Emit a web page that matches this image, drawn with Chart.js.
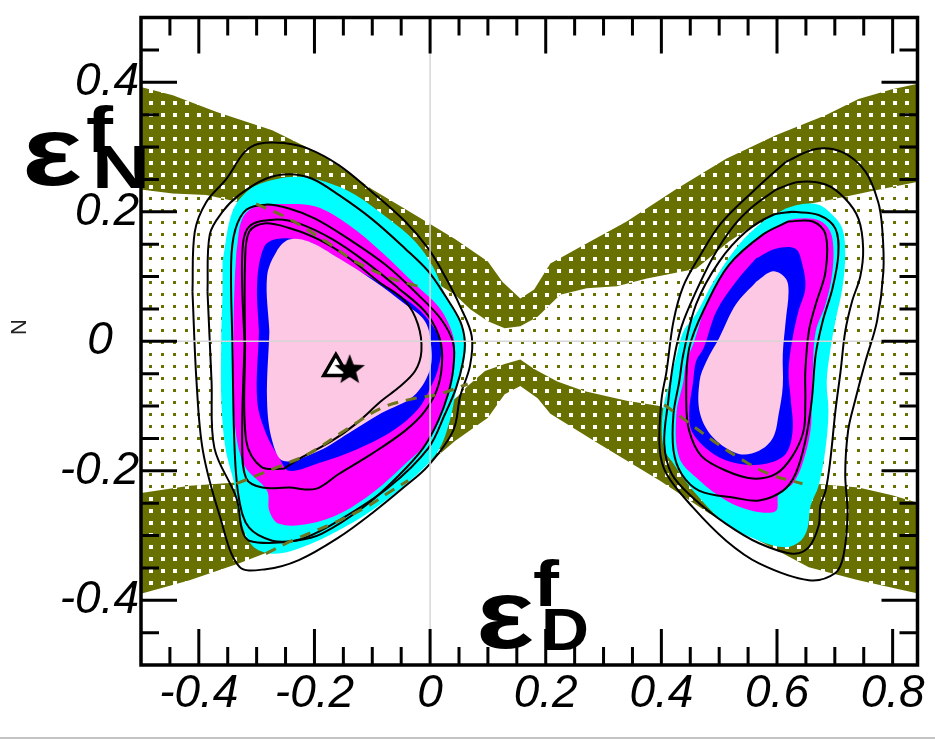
<!DOCTYPE html>
<html>
<head>
<meta charset="utf-8">
<script src="https://cdn.jsdelivr.net/npm/chart.js@4.4.1/dist/chart.umd.min.js"></script>
<style>
  html, body { margin: 0; padding: 0; background: #fff; }
  #wrap { position: relative; width: 935px; height: 741px; }
</style>
</head>
<body>
<div id="wrap"><canvas id="chart"></canvas></div>
<script>
// axis ranges and ticks
const X_MIN = -0.5, X_MAX = 0.843;
const Y_MIN = -0.5, Y_MAX = 0.5;
const X_LABELS = [-0.4, -0.2, 0, 0.2, 0.4, 0.6, 0.8];
const Y_LABELS = [-0.4, -0.2, 0, 0.2, 0.4];
const X_MINOR = [-0.45, -0.35, -0.3, -0.25, -0.15, -0.1, -0.05, 0.05, 0.1, 0.15, 0.25, 0.3, 0.35, 0.45, 0.5, 0.55, 0.65, 0.7, 0.75];
const Y_MINOR = [-0.45, -0.35, -0.3, -0.25, -0.15, -0.1, -0.05, 0.05, 0.1, 0.15, 0.25, 0.3, 0.35, 0.45];

// allowed band: outer envelope and the lighter inner region
const bandOuter = [
  [-0.51, 0.395], [-0.497, 0.392], [-0.445, 0.380], [-0.369, 0.354], [-0.273, 0.326], [-0.187, 0.288],
  [-0.101, 0.235], [-0.015, 0.189], [0.043, 0.158], [0.100, 0.123], [0.125, 0.092], [0.156, 0.066],
  [0.180, 0.080], [0.208, 0.120], [0.254, 0.143], [0.340, 0.185], [0.426, 0.235], [0.512, 0.282],
  [0.598, 0.318], [0.684, 0.349], [0.741, 0.374], [0.799, 0.389], [0.856, 0.400],
  [0.856, -0.400], [0.842, -0.389], [0.741, -0.369], [0.655, -0.349], [0.569, -0.308], [0.483, -0.266],
  [0.397, -0.215], [0.284, -0.154], [0.208, -0.112], [0.186, -0.088], [0.156, -0.069], [0.129, -0.082],
  [0.100, -0.118], [0.043, -0.154], [-0.003, -0.189], [-0.101, -0.246], [-0.187, -0.288], [-0.273, -0.323],
  [-0.330, -0.343], [-0.416, -0.369], [-0.497, -0.389], [-0.51, -0.392]
];
const bandInner = [
  [-0.51, 0.234], [-0.497, 0.234], [-0.445, 0.228], [-0.387, 0.226], [-0.296, 0.208], [-0.175, 0.162],
  [-0.055, 0.115], [0.014, 0.088], [0.043, 0.072], [0.070, 0.049], [0.100, 0.031], [0.129, 0.020],
  [0.156, 0.023], [0.186, 0.038], [0.225, 0.072], [0.271, 0.082], [0.323, 0.085], [0.375, 0.097],
  [0.460, 0.112], [0.517, 0.154], [0.564, 0.182], [0.632, 0.208], [0.701, 0.220], [0.775, 0.234],
  [0.842, 0.246], [0.856, 0.249],
  [0.856, -0.251], [0.842, -0.249], [0.799, -0.238], [0.741, -0.226], [0.667, -0.220], [0.632, -0.208],
  [0.564, -0.177], [0.460, -0.131], [0.397, -0.100], [0.340, -0.092], [0.266, -0.077], [0.220, -0.062],
  [0.180, -0.043], [0.156, -0.028], [0.129, -0.035], [0.095, -0.046], [0.065, -0.069], [0.048, -0.085],
  [-0.003, -0.123], [-0.089, -0.169], [-0.192, -0.200], [-0.278, -0.215], [-0.335, -0.218],
  [-0.416, -0.223], [-0.497, -0.234], [-0.51, -0.234]
];

// left solution: filled confidence regions
const leftCyan = [
  [-0.359, 0.123], [-0.342, 0.200], [-0.313, 0.234], [-0.273, 0.249], [-0.227, 0.254], [-0.180, 0.246],
  [-0.129, 0.226], [-0.072, 0.189], [-0.026, 0.154], [0.005, 0.115], [0.026, 0.072], [0.048, 0.038],
  [0.062, 0.000], [0.057, -0.038], [0.045, -0.077], [0.034, -0.123], [0.014, -0.169], [-0.029, -0.211],
  [-0.089, -0.254], [-0.158, -0.292], [-0.227, -0.320], [-0.273, -0.328], [-0.308, -0.315], [-0.330, -0.269],
  [-0.338, -0.223], [-0.354, -0.165], [-0.361, -0.092], [-0.361, 0.015], [-0.359, 0.077]
];
const leftMagenta = [
  [-0.335, 0.138], [-0.325, 0.189], [-0.301, 0.208], [-0.256, 0.212], [-0.198, 0.208], [-0.141, 0.180],
  [-0.084, 0.138], [-0.026, 0.088], [0.014, 0.054], [0.034, 0.023], [0.043, -0.008], [0.040, -0.046],
  [0.031, -0.080], [0.019, -0.115], [-0.003, -0.154], [-0.046, -0.192], [-0.095, -0.231], [-0.153, -0.265],
  [-0.210, -0.282], [-0.261, -0.282], [-0.278, -0.262], [-0.282, -0.231], [-0.321, -0.192], [-0.338, -0.123],
  [-0.340, 0.015], [-0.338, 0.092]
];
const leftBlue = [
  [-0.296, 0.015], [-0.299, 0.092], [-0.287, 0.146], [-0.266, 0.158], [-0.227, 0.157], [-0.198, 0.149],
  [-0.141, 0.118], [-0.084, 0.088], [-0.026, 0.054], [0.005, 0.023], [0.019, -0.008], [0.014, -0.042],
  [0.002, -0.069], [-0.021, -0.105], [-0.064, -0.138], [-0.124, -0.166], [-0.192, -0.188], [-0.244, -0.200],
  [-0.261, -0.180], [-0.284, -0.142], [-0.299, -0.092]
];
const leftPink = [
  [-0.278, 0.015], [-0.282, 0.100], [-0.266, 0.138], [-0.244, 0.157], [-0.210, 0.154], [-0.158, 0.128],
  [-0.095, 0.092], [-0.043, 0.057], [-0.009, 0.031], [0.002, -0.008], [-0.001, -0.046], [-0.029, -0.085],
  [-0.084, -0.111], [-0.141, -0.142], [-0.192, -0.169], [-0.253, -0.185], [-0.273, -0.154], [-0.282, -0.092]
];

// left solution: contour lines
const leftLine1 = [
  [-0.411, 0.077], [-0.407, 0.169], [-0.387, 0.215], [-0.352, 0.251], [-0.321, 0.292], [-0.296, 0.305],
  [-0.253, 0.306], [-0.210, 0.297], [-0.158, 0.272], [-0.101, 0.231], [-0.043, 0.185], [-0.003, 0.143],
  [0.026, 0.100], [0.052, 0.054], [0.072, 0.008], [0.069, -0.038], [0.052, -0.085], [0.040, -0.138],
  [-0.003, -0.192], [-0.046, -0.226], [-0.101, -0.266], [-0.158, -0.303], [-0.227, -0.338], [-0.284, -0.352],
  [-0.330, -0.348], [-0.364, -0.269], [-0.393, -0.169], [-0.404, -0.062]
];
const leftLine2 = [
  [-0.385, 0.077], [-0.381, 0.165], [-0.359, 0.200], [-0.330, 0.226], [-0.284, 0.251], [-0.244, 0.258],
  [-0.204, 0.251], [-0.158, 0.226], [-0.101, 0.189], [-0.043, 0.143], [-0.003, 0.108], [0.027, 0.069],
  [0.052, 0.031], [0.060, 0.000], [0.057, -0.031], [0.045, -0.072], [0.026, -0.112], [-0.003, -0.165],
  [-0.072, -0.226], [-0.158, -0.277], [-0.215, -0.303], [-0.261, -0.311], [-0.313, -0.308], [-0.325, -0.292],
  [-0.335, -0.242], [-0.373, -0.165], [-0.378, -0.062]
];
const leftLine3 = [
  [-0.342, -0.005], [-0.344, 0.123], [-0.337, 0.172], [-0.318, 0.203], [-0.284, 0.211], [-0.244, 0.205],
  [-0.198, 0.189], [-0.141, 0.158], [-0.077, 0.118], [-0.021, 0.072], [0.019, 0.034], [0.040, -0.003],
  [0.040, -0.043], [0.031, -0.082], [0.014, -0.123], [-0.012, -0.165], [-0.055, -0.208], [-0.112, -0.254],
  [-0.187, -0.297], [-0.232, -0.308], [-0.273, -0.308], [-0.313, -0.288], [-0.330, -0.246], [-0.338, -0.169]
];
const leftLine4 = [
  [-0.321, -0.005], [-0.325, 0.131], [-0.313, 0.177], [-0.266, 0.188], [-0.227, 0.182], [-0.170, 0.158],
  [-0.112, 0.123], [-0.055, 0.082], [-0.009, 0.046], [0.014, 0.011], [0.021, -0.023], [0.014, -0.069],
  [-0.009, -0.108], [-0.043, -0.138], [-0.101, -0.174], [-0.158, -0.205], [-0.198, -0.228], [-0.244, -0.226],
  [-0.290, -0.226], [-0.318, -0.212], [-0.325, -0.154]
];
const leftLine5 = [
  [-0.253, -0.197], [-0.227, -0.182], [-0.170, -0.154], [-0.129, -0.128], [-0.084, -0.092], [-0.055, -0.072],
  [-0.026, -0.046], [-0.015, -0.015], [-0.021, 0.026], [-0.043, 0.062], [-0.089, 0.092], [-0.141, 0.129],
  [-0.192, 0.157], [-0.244, 0.175], [-0.287, 0.182], [-0.313, 0.169], [-0.320, 0.123], [-0.320, -0.005],
  [-0.318, -0.154], [-0.292, -0.194]
];
const leftDash1 = [[-0.301, 0.212], [-0.244, 0.189], [-0.180, 0.154], [-0.129, 0.123], [-0.067, 0.097], [-0.033, 0.088], [-0.009, 0.082]];
const leftDash2 = [[-0.335, -0.220], [-0.249, -0.189], [-0.210, -0.174], [-0.141, -0.134], [-0.084, -0.103], [-0.026, -0.088], [0.014, -0.082], [0.065, -0.066]];
const leftDash3 = [[-0.284, -0.328], [-0.239, -0.308], [-0.170, -0.282], [-0.112, -0.257], [-0.072, -0.234], [-0.038, -0.215]];

// right solution: filled confidence regions
const rightCyan = [
  [0.615, 0.205], [0.637, 0.211], [0.672, 0.211], [0.696, 0.195], [0.713, 0.174], [0.718, 0.134],
  [0.713, 0.082], [0.701, 0.031], [0.692, -0.015], [0.686, -0.062], [0.689, -0.108], [0.684, -0.165],
  [0.672, -0.223], [0.658, -0.254], [0.653, -0.288], [0.641, -0.308], [0.615, -0.318], [0.569, -0.308],
  [0.512, -0.282], [0.455, -0.231], [0.421, -0.189], [0.404, -0.165], [0.402, -0.112], [0.414, -0.062],
  [0.426, -0.023], [0.438, 0.015], [0.460, 0.042], [0.490, 0.092], [0.534, 0.149], [0.576, 0.185]
];
const rightMagenta = [
  [0.615, 0.185], [0.632, 0.189], [0.662, 0.189], [0.684, 0.180], [0.696, 0.158], [0.696, 0.108],
  [0.684, 0.057], [0.667, 0.015], [0.662, -0.046], [0.660, -0.092], [0.658, -0.138], [0.644, -0.189],
  [0.627, -0.220], [0.603, -0.235], [0.598, -0.262], [0.558, -0.262], [0.512, -0.246], [0.466, -0.215],
  [0.431, -0.180], [0.426, -0.112], [0.438, -0.062], [0.443, -0.031], [0.455, -0.005], [0.478, 0.057],
  [0.512, 0.112], [0.564, 0.158]
];
const rightBlue = [
  [0.564, 0.128], [0.598, 0.143], [0.632, 0.143], [0.644, 0.118], [0.649, 0.082], [0.637, 0.046],
  [0.627, 0.005], [0.620, -0.046], [0.624, -0.092], [0.627, -0.138], [0.615, -0.174], [0.581, -0.189],
  [0.534, -0.189], [0.490, -0.174], [0.455, -0.143], [0.448, -0.112], [0.455, -0.062], [0.460, -0.031],
  [0.473, -0.011], [0.495, 0.046], [0.529, 0.092]
];
const rightPink = [
  [0.564, 0.092], [0.593, 0.108], [0.615, 0.097], [0.620, 0.077], [0.615, 0.031], [0.610, -0.020],
  [0.610, -0.069], [0.603, -0.112], [0.593, -0.149], [0.569, -0.169], [0.534, -0.174], [0.490, -0.149],
  [0.467, -0.112], [0.466, -0.062], [0.478, -0.031], [0.500, 0.005], [0.529, 0.057]
];

// right solution: contour lines
const rightLine1 = [
  [0.615, 0.277], [0.667, 0.297], [0.713, 0.292], [0.753, 0.262], [0.775, 0.215], [0.782, 0.174],
  [0.784, 0.108], [0.773, 0.031], [0.753, -0.031], [0.735, -0.092], [0.723, -0.138], [0.718, -0.205],
  [0.722, -0.266], [0.715, -0.331], [0.701, -0.358], [0.655, -0.369], [0.569, -0.343], [0.512, -0.308],
  [0.455, -0.257], [0.409, -0.205], [0.397, -0.165], [0.400, -0.092], [0.409, -0.046], [0.421, 0.031],
  [0.438, 0.085], [0.466, 0.131], [0.503, 0.182], [0.558, 0.231]
];
const rightLine2 = [
  [0.598, 0.234], [0.637, 0.246], [0.684, 0.242], [0.718, 0.220], [0.741, 0.189], [0.749, 0.143],
  [0.744, 0.100], [0.730, 0.062], [0.718, 0.015], [0.710, -0.046], [0.701, -0.108], [0.692, -0.185],
  [0.684, -0.231], [0.675, -0.254], [0.672, -0.285], [0.655, -0.318], [0.627, -0.328], [0.569, -0.312],
  [0.512, -0.282], [0.455, -0.242], [0.418, -0.205], [0.405, -0.158], [0.412, -0.092], [0.421, -0.031],
  [0.435, 0.023], [0.460, 0.077], [0.490, 0.131], [0.524, 0.177], [0.558, 0.208]
];
const rightLine3 = [
  [0.627, 0.200], [0.672, 0.195], [0.701, 0.174], [0.706, 0.134], [0.696, 0.082], [0.679, 0.031],
  [0.667, -0.020], [0.660, -0.092], [0.649, -0.154], [0.632, -0.205], [0.610, -0.231], [0.569, -0.246],
  [0.529, -0.242], [0.466, -0.231], [0.435, -0.205], [0.421, -0.169], [0.421, -0.112], [0.431, -0.062],
  [0.438, -0.020], [0.460, 0.057], [0.500, 0.123], [0.546, 0.169], [0.593, 0.195]
];
const rightLine4 = [
  [0.620, 0.185], [0.662, 0.185], [0.684, 0.165], [0.684, 0.108], [0.667, 0.057], [0.655, 0.015],
  [0.649, -0.046], [0.649, -0.092], [0.646, -0.138], [0.627, -0.177], [0.598, -0.205], [0.558, -0.212],
  [0.512, -0.200], [0.469, -0.177], [0.448, -0.138], [0.443, -0.092], [0.448, -0.011], [0.478, 0.057],
  [0.517, 0.118], [0.576, 0.165]
];
const rightDash = [[0.405, -0.098], [0.443, -0.123], [0.490, -0.154], [0.534, -0.180], [0.586, -0.205], [0.644, -0.220]];

// best-fit points
const bestFitTriangle = [[-0.163, -0.042]];
const bestFitStar = [[-0.139, -0.043]];

const OLIVE = '#687000';
const DASH_OLIVE = '#6f7420';

function dotPattern(bg, dot, size) {
  const c = document.createElement('canvas');
  c.width = 12; c.height = 12;
  const g = c.getContext('2d');
  g.fillStyle = bg;
  g.fillRect(0, 0, 12, 12);
  g.fillStyle = dot;
  g.fillRect(5, 5, size, size);
  return g.createPattern(c, 'repeat');
}

function starImage(r) {
  const s = Math.ceil(r * 2 + 4);
  const c = document.createElement('canvas');
  c.width = s; c.height = s;
  const g = c.getContext('2d');
  g.translate(s / 2, s / 2 + 1);
  g.beginPath();
  for (let i = 0; i < 10; i++) {
    const a = -Math.PI / 2 + i * Math.PI / 5;
    const rr = i % 2 ? r * 0.42 : r;
    g.lineTo(rr * Math.cos(a), rr * Math.sin(a));
  }
  g.closePath();
  g.fillStyle = '#000';
  g.fill();
  return c;
}

const pts = arr => arr.map(([x, y]) => ({x, y}));
const closed = arr => pts(arr.concat([arr[0]]));

function region(arr, color, tension) {
  return {data: closed(arr), showLine: true, fill: 'shape', backgroundColor: color,
    borderWidth: 0, pointRadius: 0, tension: tension};
}
function contour(arr, color, width, dash, isClosed) {
  return {data: isClosed ? closed(arr) : pts(arr), showLine: true, fill: false,
    borderColor: color, borderWidth: width, borderDash: dash || [], pointRadius: 0, tension: 0.35};
}

// listed bottom to top
const layers = [
  region(bandOuter, dotPattern(OLIVE, '#ffffff', 4), 0),
  region(bandInner, dotPattern('#ffffff', OLIVE, 3), 0),
  region(leftCyan, '#00ffff', 0.35),
  region(leftMagenta, '#ff00ff', 0.35),
  region(leftBlue, '#0000ff', 0.35),
  region(leftPink, '#fdc8e3', 0.35),
  region(rightCyan, '#00ffff', 0.35),
  region(rightMagenta, '#ff00ff', 0.35),
  region(rightBlue, '#0000ff', 0.35),
  region(rightPink, '#fdc8e3', 0.35),
  contour(leftLine1, '#000', 2, null, true),
  contour(leftLine2, '#000', 2, null, true),
  contour(leftLine3, '#000', 2, null, true),
  contour(leftLine4, '#000', 2, null, true),
  contour(leftLine5, '#000', 2, null, true),
  contour(rightLine1, '#000', 2, null, true),
  contour(rightLine2, '#000', 2, null, true),
  contour(rightLine3, '#000', 2, null, true),
  contour(rightLine4, '#000', 2, null, true),
  contour(leftDash1, DASH_OLIVE, 3, [11, 8], false),
  contour(leftDash2, DASH_OLIVE, 3, [11, 8], false),
  contour(leftDash3, DASH_OLIVE, 3, [11, 8], false),
  contour(rightDash, DASH_OLIVE, 3, [11, 8], false),
  {data: pts(bestFitTriangle), pointStyle: 'triangle', pointRadius: 14, backgroundColor: '#fff',
    borderColor: '#000', borderWidth: 3.5, showLine: false},
  {data: pts(bestFitStar), pointStyle: starImage(16), showLine: false}
];
layers.forEach((d, i) => { d.order = layers.length - i; });

const LABEL_FONT = 'italic 46px "Liberation Sans", Arial, sans-serif';
const SYMBOL_FONT = px => 'bold ' + px + 'px "Liberation Sans", Arial, sans-serif';
const fmt = v => (Math.abs(v) < 1e-9 ? '0' : String(Math.round(v * 10) / 10));

// draws text stretched to a given width, left edge at x
function fitText(ctx, text, px, x, baseline, width) {
  ctx.font = SYMBOL_FONT(px);
  const w = ctx.measureText(text).width;
  ctx.save();
  ctx.translate(x, baseline);
  ctx.scale(width / w, 1);
  ctx.fillText(text, 0, 0);
  ctx.restore();
}

// frame, inward ticks, zero lines, tick labels and axis symbols
const frame = {
  id: 'frame',
  afterDatasetsDraw(chart) {
    const {ctx, chartArea: a, scales: {x, y}} = chart;
    ctx.save();
    ctx.strokeStyle = '#d6d6d6';
    ctx.lineWidth = 1.5;
    const x0 = x.getPixelForValue(0), y0 = y.getPixelForValue(0);
    ctx.beginPath();
    ctx.moveTo(x0, a.top); ctx.lineTo(x0, a.bottom);
    ctx.moveTo(a.left, y0); ctx.lineTo(a.right, y0);
    ctx.stroke();

    ctx.strokeStyle = '#000';
    ctx.lineWidth = 3;
    ctx.beginPath();
    const xt = (v, len) => {
      const p = x.getPixelForValue(v);
      ctx.moveTo(p, a.top); ctx.lineTo(p, a.top + len);
      ctx.moveTo(p, a.bottom); ctx.lineTo(p, a.bottom - len);
    };
    const yt = (v, len) => {
      const p = y.getPixelForValue(v);
      ctx.moveTo(a.left, p); ctx.lineTo(a.left + len, p);
      ctx.moveTo(a.right, p); ctx.lineTo(a.right - len, p);
    };
    X_MINOR.forEach(v => xt(v, 18));
    X_LABELS.forEach(v => xt(v, 36));
    Y_MINOR.forEach(v => yt(v, 18));
    Y_LABELS.forEach(v => yt(v, 36));
    ctx.stroke();
    ctx.lineWidth = 3.5;
    ctx.strokeRect(a.left, a.top, a.right - a.left, a.bottom - a.top);

    // thin rule along the bottom edge
    ctx.strokeStyle = '#c4c4c4';
    ctx.lineWidth = 2;
    ctx.beginPath();
    ctx.moveTo(0, 738); ctx.lineTo(chart.width, 738);
    ctx.stroke();

    ctx.fillStyle = '#000';
    ctx.font = LABEL_FONT;
    ctx.textAlign = 'center';
    ctx.textBaseline = 'alphabetic';
    X_LABELS.forEach(v => ctx.fillText(fmt(v), x.getPixelForValue(v), 707));

    ctx.textBaseline = 'middle';
    Y_LABELS.forEach(v => {
      const t = fmt(v);
      if (t === '0') {
        ctx.textAlign = 'center';
        ctx.fillText(t, 100, y.getPixelForValue(v));
      } else {
        ctx.textAlign = 'right';
        ctx.fillText(t, 139, y.getPixelForValue(v));
      }
    });

    // axis symbols: epsilon with superscript f and subscript N / D
    ctx.textAlign = 'left';
    ctx.textBaseline = 'alphabetic';
    fitText(ctx, 'ε', 98, 22, 185, 60);
    fitText(ctx, 'f', 64, 86, 152, 27);
    fitText(ctx, 'N', 62, 92, 188, 58);
    fitText(ctx, 'ε', 98, 476, 648, 58);
    fitText(ctx, 'f', 64, 533, 606, 26);
    fitText(ctx, 'D', 60, 541, 650, 48);

    ctx.save();
    ctx.translate(26, 327);
    ctx.rotate(-Math.PI / 2);
    ctx.font = '22px "Liberation Sans", Arial, sans-serif';
    ctx.fillStyle = '#222';
    ctx.textAlign = 'center';
    ctx.fillText('N', 0, 0);
    ctx.restore();
    ctx.restore();
  }
};

new Chart(document.getElementById('chart'), {
  type: 'scatter',
  data: {datasets: layers},
  options: {
    responsive: true,
    maintainAspectRatio: false,
    animation: false,
    events: [],
    layout: {padding: {left: 0, right: 12, top: 15, bottom: 0}},
    plugins: {legend: {display: false}, tooltip: {enabled: false}},
    scales: {
      x: {
        type: 'linear', min: X_MIN, max: X_MAX,
        grid: {display: false}, border: {display: false}, ticks: {display: false},
        afterFit: s => { s.height = 76; }
      },
      y: {
        type: 'linear', min: Y_MIN, max: Y_MAX,
        grid: {display: false}, border: {display: false}, ticks: {display: false},
        afterFit: s => { s.width = 141; }
      }
    }
  },
  plugins: [frame]
});
</script>
</body>
</html>
